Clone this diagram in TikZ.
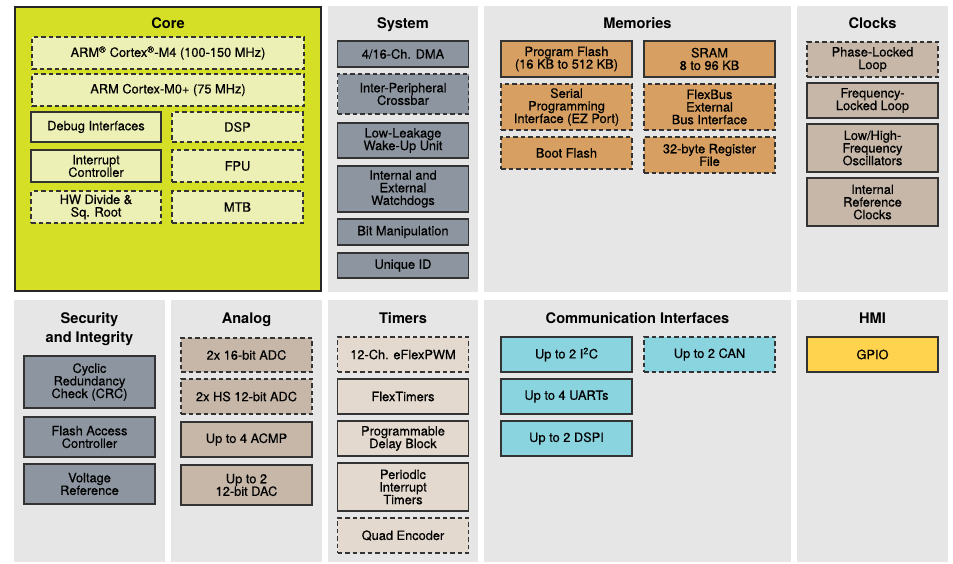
\documentclass[tikz,border=0pt]{standalone}
\usepackage{fontspec}
\setmainfont{TeX Gyre Heros}
\newfontfamily\medfont[FakeBold=0.5]{TeX Gyre Heros}
\usepackage{tikz}

\definecolor{panelgray}{HTML}{E6E6E6}
\definecolor{coreyel}{HTML}{D4DF26}
\definecolor{corein}{HTML}{EDF0B5}
\definecolor{sysgray}{HTML}{8D96A0}
\definecolor{memorg}{HTML}{D7A062}
\definecolor{clktaupe}{HTML}{C6B7A8}
\definecolor{tmrlight}{HTML}{E3D9CE}
\definecolor{comcyan}{HTML}{8AD4E0}
\definecolor{gpioyel}{HTML}{FFD34E}

\begin{document}
\begin{tikzpicture}[x=1pt,y=-1pt,
  blk/.style={draw=black!80,line width=1.1pt,align=center,inner sep=0pt,
    minimum width=131pt,font=\medfont\fontsize{12.8}{12.6}\selectfont},
  dsh/.style={dash pattern=on 4.5pt off 3pt},
  ttl/.style={anchor=base,font=\fontsize{14.6}{19}\selectfont\bfseries,align=center},
  cbox/.style={blk,fill=corein},
  sbox/.style={blk,fill=sysgray},
  mbox/.style={blk,fill=memorg},
  kbox/.style={blk,fill=clktaupe},
  tbox/.style={blk,fill=tmrlight},
  ibox/.style={blk,fill=comcyan}]
\useasboundingbox (0,0) rectangle (953,563);

\fill[panelgray] (328,6) rectangle (478,292);
\fill[panelgray] (484,6) rectangle (791,292);
\fill[panelgray] (797,6) rectangle (948,292);
\fill[panelgray] (14,300) rectangle (165,562);
\fill[panelgray] (171,300) rectangle (322,562);
\fill[panelgray] (328,300) rectangle (478,562);
\fill[panelgray] (484,300) rectangle (791,562);
\fill[panelgray] (797,300) rectangle (948,562);
\draw[fill=coreyel,line width=1.3pt,draw=black!85] (15,7) rectangle (321,291);

\node[ttl] (core) at (168,28) {Core};
\node[ttl] (system) at (403,28) {System};
\node[ttl] (mem) at (637.5,28) {Memories};
\node[ttl] (clk) at (872.5,28) {Clocks};
\node[ttl] (sec) at (89.5,342) {Security\\and Integrity};
\node[ttl] (ana) at (246.5,323) {Analog};
\node[ttl] (tmr) at (403,323) {Timers};
\node[ttl] (com) at (637.5,323) {Communication Interfaces};
\node[ttl] (hmi) at (872.5,323) {HMI};

\node[cbox,dsh,minimum width=272pt,minimum height=32pt] (m4) at (168,53) {ARM\textsuperscript{®} Cortex\textsuperscript{®}-M4 (100-150 MHz)};
\node[cbox,dsh,minimum width=272pt,minimum height=32pt] (m0) at (168,90) {ARM Cortex-M0+ (75 MHz)};
\node[cbox,minimum width=130pt,minimum height=30pt] (dbg) at (96,127) {Debug Interfaces};
\node[cbox,dsh,minimum height=30pt] (dsp) at (237.5,127) {DSP};
\node[cbox,minimum width=130pt,minimum height=32pt] (nvic) at (96,166) {Interrupt\\Controller};
\node[cbox,dsh,minimum height=32pt] (fpu) at (237.5,166) {FPU};
\node[cbox,dsh,minimum width=130pt,minimum height=32pt] (hwdiv) at (96,207) {HW Divide \&\\Sq. Root};
\node[cbox,dsh,minimum height=32pt] (mtb) at (237.5,207) {MTB};

\node[sbox,minimum height=26pt] (dma) at (403,54) {4/16-Ch. DMA};
\node[sbox,dsh,minimum height=40pt] (xbar) at (403,94) {Inter-Peripheral\\Crossbar};
\node[sbox,minimum height=35pt] (llwu) at (403,140.5) {Low-Leakage\\Wake-Up Unit};
\node[sbox,minimum height=46pt] (wdog) at (403,189) {Internal and\\External\\Watchdogs};
\node[sbox,minimum height=26pt] (bitm) at (403,232) {Bit Manipulation};
\node[sbox,minimum height=25pt] (uid) at (403,265.5) {Unique ID};

\node[mbox,minimum height=36pt] (pflash) at (566.5,59) {Program Flash\\(16 KB to 512 KB)};
\node[mbox,minimum height=36pt] (sram) at (709.5,59) {SRAM\\8 to 96 KB};
\node[mbox,dsh,minimum height=46pt] (ezport) at (566.5,107) {Serial\\Programming\\Interface (EZ Port)};
\node[mbox,dsh,minimum height=46pt] (flexbus) at (709.5,107) {FlexBus\\External\\Bus Interface};
\node[mbox,dsh,minimum height=32pt] (boot) at (566.5,153) {Boot Flash};
\node[mbox,dsh,minimum height=36pt] (regf) at (709.5,155) {32-byte Register\\File};

\node[kbox,dsh,minimum height=35pt] (pll) at (872.5,59.5) {Phase-Locked\\Loop};
\node[kbox,minimum height=35pt] (fll) at (872.5,100.5) {Frequency-\\Locked Loop};
\node[kbox,minimum height=48pt] (osc) at (872.5,148) {Low/High-\\Frequency\\Oscillators};
\node[kbox,minimum height=48pt] (irc) at (872.5,202) {Internal\\Reference\\Clocks};

\node[sbox,minimum height=52pt] (crc) at (89.5,382) {Cyclic\\Redundancy\\Check (CRC)};
\node[sbox,minimum height=40pt] (fac) at (89.5,437) {Flash Access\\Controller};
\node[sbox,minimum height=40pt] (vref) at (89.5,484) {Voltage\\Reference};

\node[kbox,dsh,minimum height=34pt] (adc16) at (246.5,355) {2x 16-bit ADC};
\node[kbox,dsh,minimum height=35pt] (adc12) at (246.5,396.5) {2x HS 12-bit ADC};
\node[kbox,minimum height=35pt] (acmp) at (246.5,439.5) {Up to 4 ACMP};
\node[kbox,minimum height=40pt] (dac) at (246.5,485) {Up to 2\\12-bit DAC};

\node[tbox,dsh,minimum height=35pt] (pwm) at (403,354.5) {12-Ch. eFlexPWM};
\node[tbox,minimum height=35pt] (ftm) at (403,396.5) {FlexTimers};
\node[tbox,minimum height=35pt] (pdb) at (403,438.5) {Programmable\\Delay Block};
\node[tbox,minimum height=48pt] (pit) at (403,487) {Periodic\\Interrupt\\Timers};
\node[tbox,dsh,minimum height=35pt] (qdec) at (403,535.5) {Quad Encoder};

\node[ibox,minimum height=35pt] (iic) at (566.5,354.5) {Up to 2 I\textsuperscript{2}C};
\node[ibox,dsh,minimum height=35pt] (can) at (709.5,354.5) {Up to 2 CAN};
\node[ibox,minimum height=35pt] (uart) at (566.5,396.5) {Up to 4 UARTs};
\node[ibox,minimum height=35pt] (dspi) at (566.5,438.5) {Up to 2 DSPI};

\node[blk,fill=gpioyel,minimum height=35pt] (gpio) at (872.5,354.5) {GPIO};

\end{tikzpicture}
\end{document}
